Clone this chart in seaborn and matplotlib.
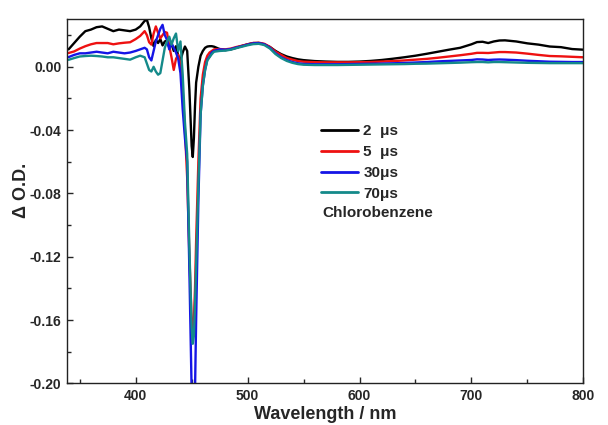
import matplotlib
matplotlib.use("Agg")
import matplotlib.pyplot as plt
import seaborn as sns
import pandas as pd

# Transient absorption spectra of the sample in chlorobenzene
wavelength = [340, 345, 350, 355, 360, 365, 370, 375, 380, 385, 390, 395, 400, 404, 408,
              410, 412, 414, 416, 418, 420, 422, 424, 426, 428, 430, 432, 434, 436, 438,
              440, 442, 444, 446, 448, 450, 451, 452, 453, 454, 456, 458, 460, 462, 464,
              466, 468, 470, 475, 480, 485, 490, 495, 500, 505, 510, 515, 520, 525, 530,
              535, 540, 545, 550, 560, 570, 580, 590, 600, 610, 620, 630, 640, 650, 660,
              670, 680, 690, 700, 705, 710, 715, 720, 725, 730, 740, 750, 760, 770, 780,
              790, 800]

od_2us = [0.0110, 0.0150, 0.0190, 0.0225, 0.0235, 0.0250, 0.0255, 0.0240, 0.0225, 0.0235,
          0.0230, 0.0225, 0.0235, 0.0255, 0.0290, 0.0297, 0.0250, 0.0180, 0.0130, 0.0170,
          0.0150, 0.0175, 0.0135, 0.0160, 0.0165, 0.0120, 0.0145, 0.0100, 0.0130, 0.0070,
          0.0040, 0.0090, 0.0128, 0.0100, -0.0150, -0.0500, -0.0570, -0.0450, -0.0250, -0.0100,
          0.0000, 0.0070, 0.0100, 0.0120, 0.0128, 0.0130, 0.0130, 0.0127, 0.0112, 0.0105,
          0.0110, 0.0120, 0.0132, 0.0142, 0.0150, 0.0150, 0.0142, 0.0125, 0.0100, 0.0080,
          0.0065, 0.0055, 0.0047, 0.0042, 0.0036, 0.0033, 0.0031, 0.0031, 0.0033, 0.0037,
          0.0043, 0.0051, 0.0060, 0.0070, 0.0082, 0.0095, 0.0108, 0.0120, 0.0142, 0.0156,
          0.0158, 0.0150, 0.0160, 0.0166, 0.0167, 0.0160, 0.0148, 0.0140, 0.0128, 0.0124,
          0.0112, 0.0108]

od_5us = [0.0087, 0.0097, 0.0115, 0.0130, 0.0142, 0.0150, 0.0150, 0.0150, 0.0142, 0.0148,
          0.0152, 0.0155, 0.0175, 0.0195, 0.0225, 0.0200, 0.0155, 0.0140, 0.0210, 0.0255,
          0.0215, 0.0180, 0.0200, 0.0220, 0.0215, 0.0130, 0.0060, -0.0020, 0.0050, 0.0076,
          0.0020, -0.0150, -0.0400, -0.0700, -0.1200, -0.1600, -0.1650, -0.1600, -0.1400, -0.1100,
          -0.0600, -0.0200, -0.0050, 0.0030, 0.0070, 0.0090, 0.0100, 0.0110, 0.0112, 0.0110,
          0.0115, 0.0125, 0.0133, 0.0142, 0.0150, 0.0152, 0.0145, 0.0125, 0.0095, 0.0075,
          0.0055, 0.0045, 0.0036, 0.0032, 0.0029, 0.0028, 0.0028, 0.0028, 0.0029, 0.0030,
          0.0033, 0.0036, 0.0040, 0.0045, 0.0050, 0.0057, 0.0065, 0.0073, 0.0082, 0.0088,
          0.0088, 0.0087, 0.0090, 0.0093, 0.0093, 0.0090, 0.0083, 0.0075, 0.0068, 0.0066,
          0.0063, 0.0060]

od_30us = [0.0061, 0.0075, 0.0085, 0.0085, 0.0090, 0.0095, 0.0090, 0.0085, 0.0095, 0.0090,
           0.0085, 0.0090, 0.0100, 0.0110, 0.0120, 0.0110, 0.0060, 0.0040, 0.0100, 0.0160,
           0.0200, 0.0240, 0.0265, 0.0200, 0.0170, 0.0110, 0.0150, 0.0120, 0.0090, 0.0050,
           -0.0040, -0.0270, -0.0450, -0.0600, -0.1300, -0.2050, -0.2300, -0.2300, -0.2050, -0.1600,
           -0.0850, -0.0300, -0.0120, -0.0020, 0.0045, 0.0065, 0.0090, 0.0100, 0.0110, 0.0108,
           0.0112, 0.0122, 0.0130, 0.0140, 0.0148, 0.0150, 0.0142, 0.0120, 0.0085, 0.0060,
           0.0042, 0.0030, 0.0022, 0.0018, 0.0016, 0.0016, 0.0016, 0.0017, 0.0018, 0.0019,
           0.0020, 0.0022, 0.0024, 0.0027, 0.0030, 0.0034, 0.0037, 0.0040, 0.0043, 0.0047,
           0.0046, 0.0043, 0.0045, 0.0046, 0.0045, 0.0042, 0.0038, 0.0035, 0.0032, 0.0031,
           0.0030, 0.0030]

od_70us = [0.0044, 0.0055, 0.0065, 0.0068, 0.0070, 0.0068, 0.0065, 0.0060, 0.0060, 0.0055,
           0.0050, 0.0045, 0.0060, 0.0070, 0.0060, 0.0020, -0.0020, -0.0030, 0.0000, -0.0030,
           -0.0050, -0.0040, 0.0040, 0.0120, 0.0160, 0.0190, 0.0140, 0.0180, 0.0210, 0.0100,
           0.0160, -0.0050, -0.0350, -0.0550, -0.1150, -0.1650, -0.1750, -0.1700, -0.1500, -0.1250,
           -0.0750, -0.0300, -0.0120, -0.0020, 0.0040, 0.0060, 0.0080, 0.0095, 0.0100, 0.0102,
           0.0108, 0.0118, 0.0127, 0.0136, 0.0143, 0.0145, 0.0137, 0.0115, 0.0080, 0.0055,
           0.0037, 0.0025, 0.0017, 0.0013, 0.0011, 0.0011, 0.0011, 0.0012, 0.0013, 0.0014,
           0.0015, 0.0016, 0.0017, 0.0019, 0.0020, 0.0022, 0.0024, 0.0026, 0.0029, 0.0030,
           0.0030, 0.0028, 0.0030, 0.0030, 0.0029, 0.0027, 0.0025, 0.0024, 0.0023, 0.0023,
           0.0023, 0.0023]

delays = ["2  μs", "5  μs", "30μs", "70μs"]
colors = ["#000000", "#ee1111", "#1515e6", "#148a8a"]

frames = []
for label, values in zip(delays, [od_2us, od_5us, od_30us, od_70us]):
    frames.append(pd.DataFrame({"wavelength": wavelength, "od": values, "delay": label}))
data = pd.concat(frames, ignore_index=True)

sns.set_theme(style="ticks")
plt.rcParams["font.family"] = ["Liberation Sans", "DejaVu Sans"]
plt.rcParams["font.weight"] = "bold"

fig = plt.figure(figsize=(6.08, 4.25), dpi=100)
ax = fig.add_axes([0.110, 0.098, 0.8494, 0.8566])

sns.lineplot(data=data, x="wavelength", y="od", hue="delay", hue_order=delays,
             palette=colors, estimator=None, sort=False, linewidth=1.7, ax=ax)

ax.set_xlim(338.5, 800)
ax.set_ylim(-0.20, 0.030)
ax.set_xticks([400, 500, 600, 700, 800])
ax.set_xticks([350, 450, 550, 650, 750], minor=True)
ax.set_yticks([0.00, -0.04, -0.08, -0.12, -0.16, -0.20])
ax.set_yticks([0.02, -0.02, -0.06, -0.10, -0.14, -0.18], minor=True)
ax.yaxis.set_major_formatter(matplotlib.ticker.FormatStrFormatter("%.2f"))

ax.tick_params(axis="both", which="major", direction="in", length=4.5, width=1.0,
               labelsize=10, pad=4)
ax.tick_params(axis="both", which="minor", direction="in", length=3, width=1.0)
for lbl in ax.get_xticklabels() + ax.get_yticklabels():
    lbl.set_fontweight("bold")
for side in ["top", "right", "left", "bottom"]:
    ax.spines[side].set_visible(True)
    ax.spines[side].set_linewidth(1.0)
    ax.spines[side].set_color("#222222")

ax.set_xlabel("Wavelength / nm", fontsize=13, fontweight="bold", labelpad=2)
ax.set_ylabel("Δ O.D.", fontsize=13, fontweight="bold")
ax.yaxis.set_label_coords(-0.072, 0.53)

leg = ax.legend(loc="upper left", bbox_to_anchor=(0.493, 0.712), frameon=False,
                fontsize=11, handlelength=2.4, handletextpad=0.35, labelspacing=0.45,
                borderaxespad=0, borderpad=0)
for t in leg.get_texts():
    t.set_fontweight("bold")
for h in leg.get_lines():
    h.set_linewidth(2.0)

ax.text(0.494, 0.468, "Chlorobenzene", transform=ax.transAxes, fontsize=11,
        fontweight="bold", va="center", ha="left")

fig.savefig("out.png", dpi=100)
